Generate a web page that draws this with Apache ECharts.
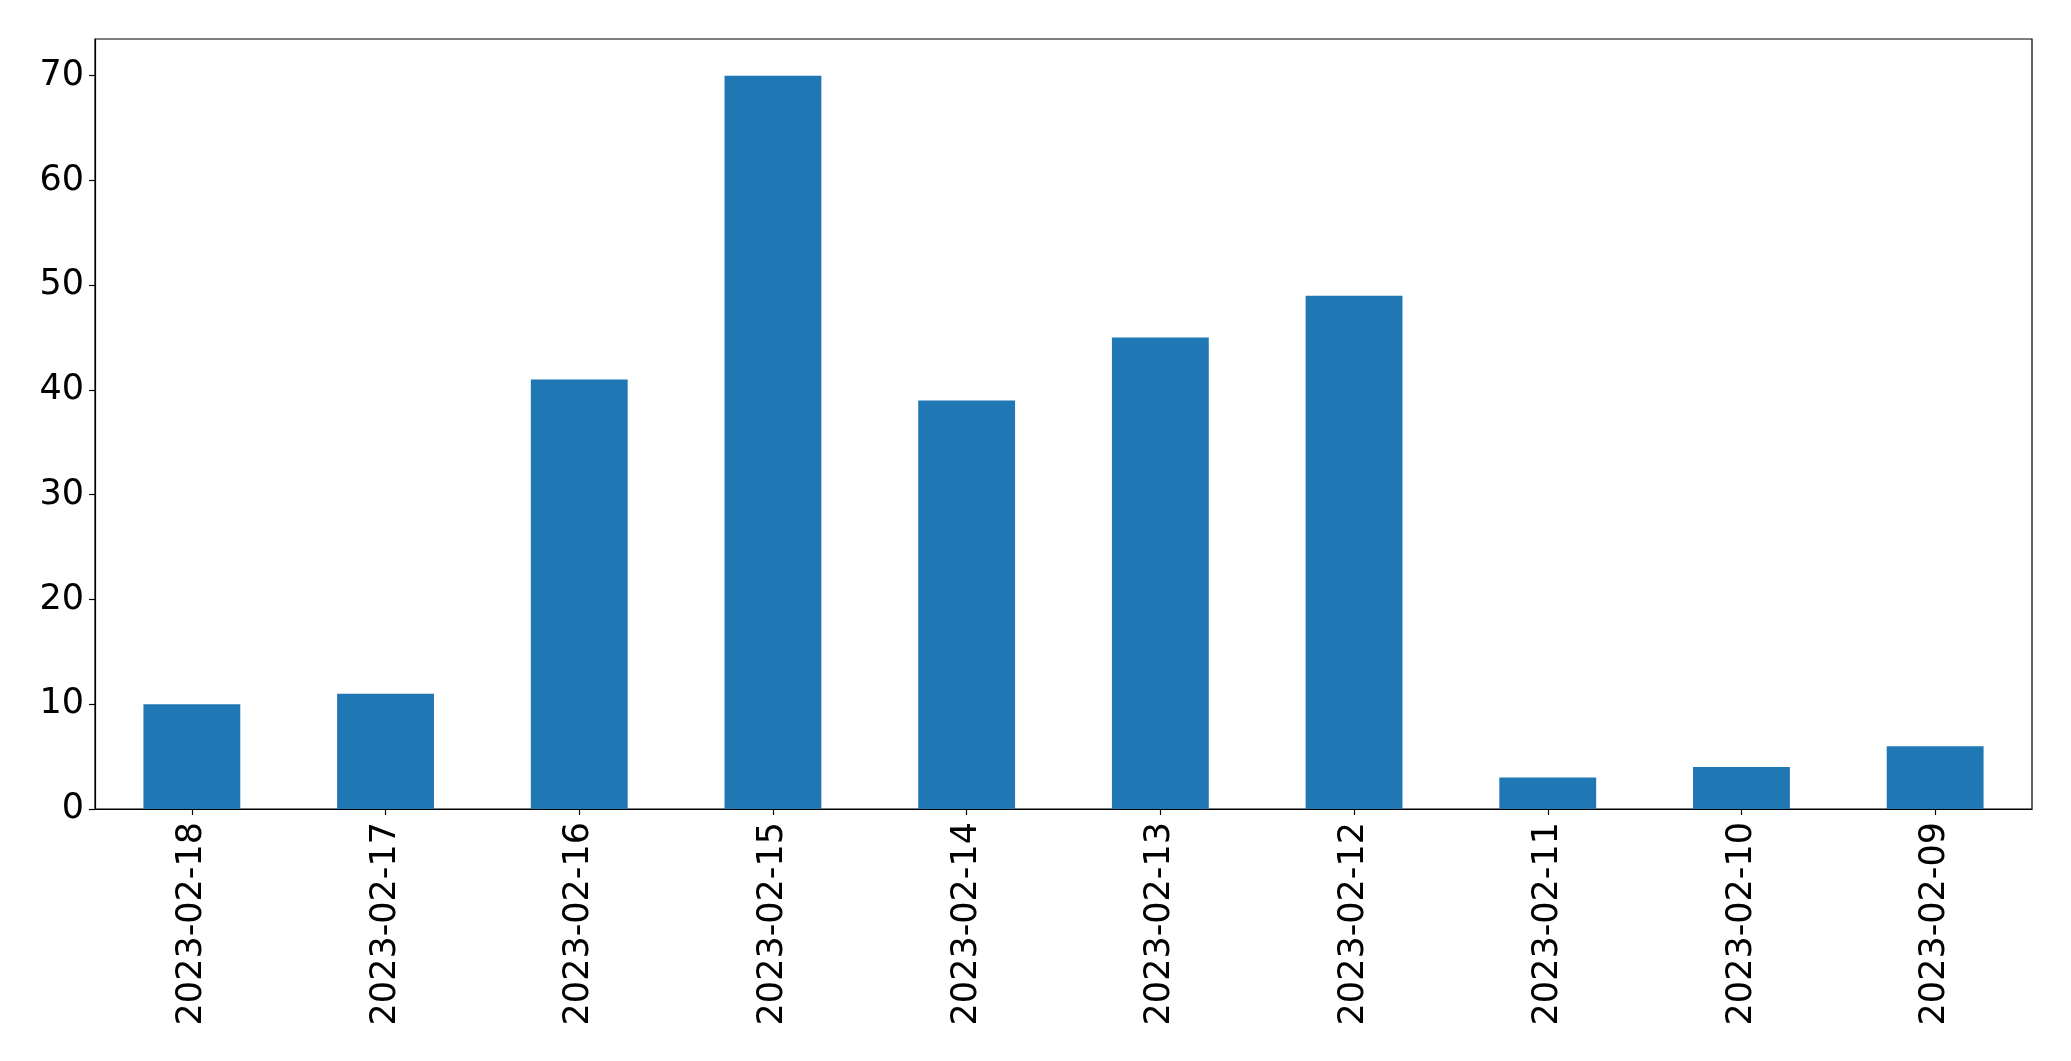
<!DOCTYPE html>
<html>
<head>
<meta charset="utf-8">
<script src="https://cdn.jsdelivr.net/npm/echarts@6/dist/echarts.min.js"></script>
<style>
html,body{margin:0;padding:0;background:#fff;}
#chart{width:2071px;height:1061px;}
</style>
</head>
<body>
<div id="chart"></div>
<script>
const categories = ["2023-02-18","2023-02-17","2023-02-16","2023-02-15","2023-02-14","2023-02-13","2023-02-12","2023-02-11","2023-02-10","2023-02-09"];
const counts = [10, 11, 41, 70, 39, 45, 49, 3, 4, 6];
const yTicks = [0, 10, 20, 30, 40, 50, 60, 70];

const chart = echarts.init(document.getElementById('chart'), null, {renderer: 'canvas'});
const font = 'DejaVu Sans';
chart.setOption({
  animation: false,
  backgroundColor: '#ffffff',
  grid: {
    left: 95, right: 39, top: 39, bottom: 252,
    show: true, borderColor: '#000', borderWidth: 1.2, backgroundColor: 'transparent'
  },
  xAxis: {
    type: 'category',
    data: categories,
    axisLine: {show: true, lineStyle: {color: '#000', width: 1.2}},
    axisTick: {show: true, alignWithLabel: true, length: 6, lineStyle: {color: '#000', width: 1.2}},
    axisLabel: {rotate: 90, fontSize: 35, fontFamily: font, color: '#000', margin: 13, interval: 0},
    splitLine: {show: false}
  },
  yAxis: {
    type: 'value',
    min: 0,
    max: 73.5,
    interval: 10,
    axisLine: {show: true, lineStyle: {color: '#000', width: 1.2}},
    axisTick: {show: true, length: 6, lineStyle: {color: '#000', width: 1.2}, customValues: yTicks},
    axisLabel: {fontSize: 35, fontFamily: font, color: '#000', margin: 11, customValues: yTicks},
    splitLine: {show: false}
  },
  series: [{
    type: 'bar',
    data: counts,
    barWidth: '50%',
    itemStyle: {color: '#1f77b4'}
  }]
});
</script>
</body>
</html>
